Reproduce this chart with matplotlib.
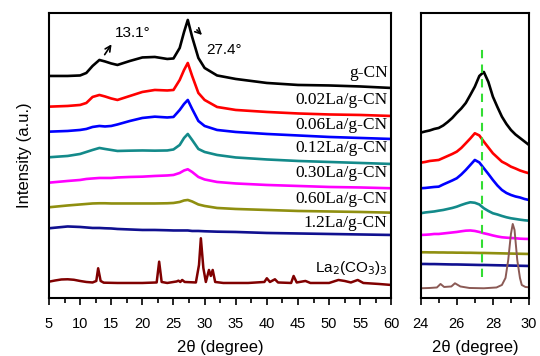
import matplotlib
matplotlib.use('Agg')
import matplotlib.pyplot as plt
from matplotlib.ticker import MultipleLocator

# 2theta grid used for the g-CN type samples (left panel)
two_theta = [5, 8, 10, 11, 12, 13.1, 14, 15, 16, 18, 20, 22, 24, 25, 26, 26.7, 27.3,
             28, 29, 30, 32, 35, 40, 45, 50, 55, 60]

# stacked intensities (a.u.)
gcn = [222, 222, 222.5, 225, 232, 238, 236.5, 234.5, 233, 237, 240.5, 241, 239, 239.5, 250, 266, 278,
       261, 240, 230, 222.5, 219, 215, 213, 212.5, 211.5, 210]
la002 = [191.3, 192, 193, 195, 201, 203, 201.5, 199.5, 198, 202, 206, 208, 207.5, 208, 218, 228, 235,
         222, 205, 198, 191, 188, 186, 184.5, 183.5, 183, 182]
la006 = [166.3, 167, 168, 169, 171, 172, 171.5, 172, 173.5, 177, 180, 181.3, 180.5, 181, 188, 194, 198,
         189, 177, 172, 168, 166, 164, 162.5, 161, 160, 159]
la012 = [140.7, 142, 144, 146, 148, 150, 149, 148, 147, 147.3, 147.5, 147.3, 147.5, 148.5, 153, 160, 164,
         158, 149, 146, 143, 140.5, 138.5, 137, 136, 135, 134]
la030 = [115.3, 117, 118, 119, 119.5, 120, 120, 120, 120.5, 121, 121.3, 122, 122.5, 123, 125, 127.5, 128.7,
         126, 121, 118.5, 116, 114.5, 113, 112, 111, 110.5, 109.7]
la060 = [90.7, 92.5, 93.5, 94, 94.5, 94.7, 94.7, 94.5, 94.5, 94.5, 94.5, 94.5, 94.7, 95, 96, 97.5, 98,
         96.5, 93.5, 92, 90, 89, 88, 87, 86.5, 86, 85.3]
la12 = [69.7, 71.5, 71, 70.5, 70, 70, 69.7, 69.5, 69, 68.5, 68, 68, 67.7, 67.5, 67.5, 67.5, 67.5,
        67, 67, 66.7, 66.3, 66, 65, 64.5, 64, 63.5, 63]

# La2(CO3)3 reference pattern
la2co3_x = [5, 6, 7, 8, 9, 10, 11, 12, 12.6, 12.9, 13.3, 13.8, 16, 20, 22.3, 22.7, 23.1, 24,
            25.5, 25.8, 26.1, 26.4, 26.8, 28.6, 29.1, 29.4, 29.8, 30.2, 30.7, 31.0, 31.3, 31.7,
            33, 37, 39.6, 40.0, 40.5, 41.3, 41.8, 43.9, 44.3, 44.8, 46.2, 47, 50, 51.5, 52.5,
            53.5, 54.6, 55.5, 58, 60]
la2co3_y = [16.3, 17.5, 18.5, 18.7, 18.2, 17, 16, 15.5, 17, 29.7, 17, 15.3, 15, 15, 15.5, 36.3, 16, 15,
            16.5, 17.3, 16, 18, 16, 15.5, 33, 59.7, 30, 16, 28, 22, 28, 16,
            15, 15, 16, 19.7, 16, 18.7, 15.5, 15, 22, 15.5, 17, 15, 15, 18, 17,
            15.5, 18, 15, 14, 13]

labels = ['g-CN', '0.02La/g-CN', '0.06La/g-CN', '0.12La/g-CN', '0.30La/g-CN',
          '0.60La/g-CN', '1.2La/g-CN']
colors = ['#000000', '#ff0000', '#0000ff', '#138a8a', '#ff00ff', '#8f8f10', '#101090']
label_y = [224.7, 198, 173, 150.3, 124.7, 98.7, 74.7]

# zoomed region (right panel)
zoom_x = [24 + 0.25 * i for i in range(25)]
zoom_gcn = [165.3, 166.5, 167.5, 169, 170, 172.5, 176, 180, 185, 189.5, 195, 203, 211.3, 222, 226,
            216, 201.3, 191, 181.3, 174, 168, 163.5, 160, 156.5, 153]
zoom_la002 = [135.3, 136, 137, 137.5, 138, 140, 142, 144, 146.3, 150, 154.7, 159.5, 164.7, 162.5,
              156.3, 150.5, 144.7, 140.5, 136.3, 134, 131.3, 129.5, 127.5, 126, 124.7]
zoom_la006 = [109.7, 110, 110.5, 111, 111.3, 113.5, 115.5, 117.5, 119.7, 123.5, 128, 133, 138, 135.5,
              129.7, 124, 118, 112.5, 108, 105, 103, 101.5, 100.5, 99, 98]
zoom_la012 = [84.7, 85.5, 86, 86.5, 87.3, 88, 89, 90, 91.3, 93, 94.5, 95.7, 95.2, 93.5, 89.7, 87,
              84.7, 83.5, 82, 80.7, 79.7, 79, 78.3, 77.7, 77.3]
zoom_la030 = [63, 63.2, 63.5, 64, 64, 64.5, 65, 65.5, 66, 66.7, 67.3, 67.5, 67, 66, 64.7, 63.7,
              62.5, 61.5, 60.7, 60.3, 60, 59.7, 59.3, 59.1, 59]
zoom_la060 = [45.7, 45.7, 45.6, 45.6, 45.5, 45.5, 45.4, 45.4, 45.3, 45.3, 45.2, 45.2, 45.1, 45, 45,
              44.9, 44.8, 44.7, 44.6, 44.5, 44.4, 44.3, 44.2, 44.1, 44]
zoom_la12 = [34, 34, 33.9, 33.9, 33.8, 33.7, 33.6, 33.5, 33.5, 33.4, 33.3, 33.2, 33.1, 33, 33, 32.9,
             32.8, 32.7, 32.6, 32.5, 32.4, 32.3, 32.2, 32.1, 32]
zoom_la2co3_x = [24, 24.5, 24.9, 25.1, 25.3, 25.7, 25.9, 26.2, 26.7, 27.5, 28.2, 28.5, 28.7, 28.85,
                 29.0, 29.1, 29.2, 29.35, 29.5, 29.6, 29.8, 30]
zoom_la2co3_y = [9.7, 10, 10.5, 14, 11, 11.5, 14.7, 11.5, 10, 9.7, 10.5, 13, 20, 38, 64, 74, 68, 38,
                 20, 13, 11, 10.7]

plt.rcParams['font.family'] = ['Liberation Sans', 'DejaVu Sans']

fig = plt.figure(figsize=(5.4, 3.56), dpi=100)
ax = fig.add_axes([0.0907, 0.163, 0.634, 0.8006])
ax2 = fig.add_axes([0.779, 0.163, 0.2006, 0.8006])

series = [gcn, la002, la006, la012, la030, la060, la12]
for y, c, lab, ly in zip(series, colors, labels, label_y):
    ax.plot(two_theta, y, color=c, lw=1.9)
    ax.text(59.4, ly, lab, ha='right', va='center', fontsize=12.5,
            family='Liberation Serif')
ax.plot(la2co3_x, la2co3_y, color='#800000', lw=1.8)
ax.text(59.4, 29.7, 'La$_2$(CO$_3$)$_3$', ha='right', va='center', fontsize=11)

# peak annotations
ax.annotate('', xy=(15.3, 256), xytext=(13.7, 241),
            arrowprops=dict(arrowstyle='->', lw=1.2, color='black'))
ax.text(18.5, 265, '13.1°', ha='center', va='center', fontsize=11)
ax.annotate('', xy=(29.9, 261), xytext=(28.45, 270),
            arrowprops=dict(arrowstyle='->', lw=1.2, color='black'))
ax.text(33.1, 248, '27.4°', ha='center', va='center', fontsize=11)

ax.set_xlim(5, 60)
ax.set_ylim(0, 285)
ax.set_yticks([])
ax.xaxis.set_major_locator(MultipleLocator(5))
ax.xaxis.set_minor_locator(MultipleLocator(2.5))
ax.set_xlabel('2θ (degree)', fontsize=12, labelpad=6)
ax.set_ylabel('Intensity (a.u.)', fontsize=12, labelpad=12)

zoom_series = [zoom_gcn, zoom_la002, zoom_la006, zoom_la012, zoom_la030, zoom_la060, zoom_la12]
for y, c in zip(zoom_series, colors):
    ax2.plot(zoom_x, y, color=c, lw=1.9)
ax2.plot(zoom_la2co3_x, zoom_la2co3_y, color='#8b5a55', lw=1.4)
ax2.plot([27.4, 27.4], [21.3, 253], color='#33dd33', lw=1.5, ls=(0, (4, 3)))
ax2.set_xlim(24, 30)
ax2.set_ylim(0, 285)
ax2.set_yticks([])
ax2.xaxis.set_major_locator(MultipleLocator(2))
ax2.xaxis.set_minor_locator(MultipleLocator(1))
ax2.set_xlabel('2θ (degree)', fontsize=12, labelpad=6)

for a in (ax, ax2):
    for s in a.spines.values():
        s.set_linewidth(1.5)
    a.tick_params(axis='x', which='major', length=5, width=1.2, labelsize=10.5, pad=9)
    a.tick_params(axis='x', which='minor', length=3.5, width=1.2)

fig.savefig('out.png', dpi=100)
